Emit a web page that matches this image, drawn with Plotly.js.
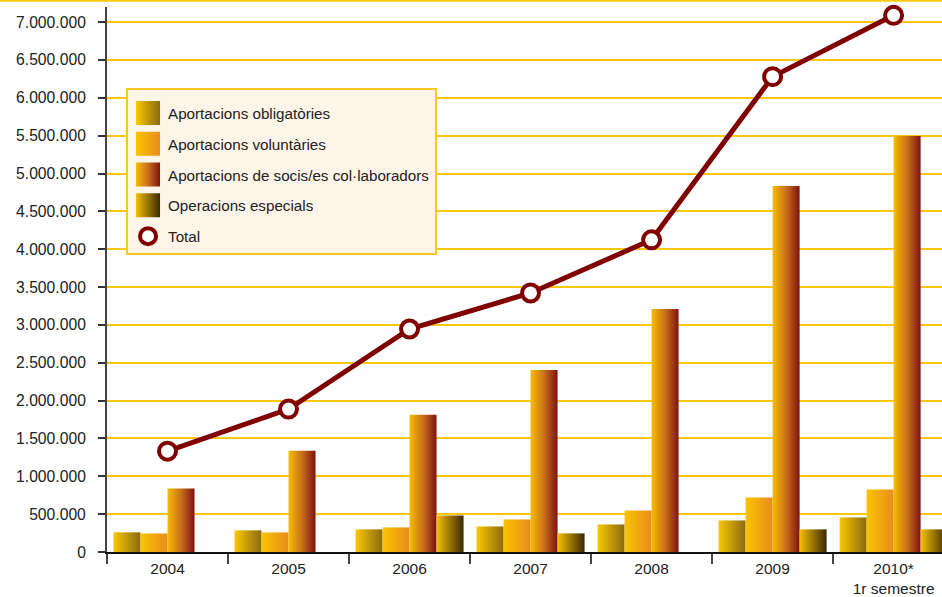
<!DOCTYPE html>
<html>
<head>
<meta charset="utf-8">
<script src="https://cdn.plot.ly/plotly-3.0.1.min.js"></script>
<style>html,body{margin:0;padding:0;background:#fff;}#chart{width:942px;height:597px;}</style>
</head>
<body>
<div id="chart"></div>
<script>
const years = ['2004', '2005', '2006', '2007', '2008', '2009', '2010*<br>1r semestre'];
const obligatories = [260000, 286000, 299000, 338000, 364000, 417000, 457000];
const voluntaries = [245000, 259000, 325000, 430000, 549000, 720000, 825000];
const socis = [838000, 1339000, 1812000, 2404000, 3210000, 4836000, 5497000];
const especials = [null, null, 483000, 246000, null, 299000, 299000];
const total = [1332000, 1888000, 2946000, 3422000, 4124000, 6280000, 7090000];
const seriesNames = ['Aportacions obligatòries', 'Aportacions voluntàries', 'Aportacions de socis/es col·laboradors', 'Operacions especials', 'Total'];
const yTicks = [0, 500000, 1000000, 1500000, 2000000, 2500000, 3000000, 3500000, 4000000, 4500000, 5000000, 5500000, 6000000, 6500000, 7000000];

const gradients = [
  [['0%', '#fac800'], ['100%', '#8a6a12']],
  [['0%', '#fac400'], ['100%', '#e88c1e']],
  [['0%', '#f7bc00'], ['50%', '#c8701c'], ['100%', '#7e1212']],
  [['0%', '#f5c000'], ['100%', '#3a2806']]
];
const solid = ['#c49a0a', '#f0a812', '#b8501a', '#8a6a08'];

const barData = [obligatories, voluntaries, socis, especials];
const traces = barData.map((vals, i) => ({
  type: 'bar', x: years, y: vals, name: seriesNames[i],
  legendgroup: 'g' + i,
  marker: {color: solid[i], line: {width: 0}},
  hoverinfo: 'y'
}));
traces.push({
  type: 'scatter', mode: 'lines+markers', x: years, y: total, name: seriesNames[4],
  legendgroup: 'g4', cliponaxis: false,
  line: {color: '#800000', width: 5},
  marker: {symbol: 'circle', size: 17, color: '#ffffff', line: {color: '#800000', width: 4}}
});

const layout = {
  width: 942, height: 597,
  margin: {l: 107, r: 0, t: 7, b: 45},
  paper_bgcolor: '#ffffff', plot_bgcolor: '#ffffff',
  separators: ',.',
  font: {family: 'Liberation Sans, Arial, sans-serif', size: 15, color: '#222'},
  barmode: 'group', bargap: 0.107, bargroupgap: 0,
  showlegend: true,
  legend: {
    x: 0.0228, y: 0.851, xanchor: 'left', yanchor: 'top',
    bgcolor: '#fdf6e8', bordercolor: '#f8c820', borderwidth: 2,
    font: {size: 15.2, color: '#222'},
    title: {text: '\u00a0', font: {size: 5}},
    traceorder: 'grouped', tracegroupgap: 8,
    itemwidth: 30
  },
  xaxis: {
    type: 'category', range: [-0.5, 6.4],
    tickson: 'boundaries', ticks: 'outside', ticklen: 10, tickwidth: 2, tickcolor: '#444',
    showline: true, linecolor: '#111', linewidth: 2,
    showgrid: false, zeroline: false, ticklabelstandoff: 1,
    tickfont: {size: 15.5, color: '#222'}, fixedrange: true
  },
  yaxis: {
    range: [0, 7200000], tickvals: yTicks, tickformat: ',d',
    ticks: 'outside', ticklen: 7, tickwidth: 2, tickcolor: '#333',
    showline: true, linecolor: '#444', linewidth: 2,
    showgrid: true, gridcolor: '#f9c80e', gridwidth: 2,
    zeroline: false, ticklabelstandoff: 9,
    tickfont: {size: 15.7, color: '#222'}, fixedrange: true
  },
  shapes: [{
    type: 'line', xref: 'paper', yref: 'paper',
    x0: -107 / 835, x1: 1, y0: 1.0115, y1: 1.0115,
    line: {color: '#f9c80e', width: 2}
  }]
};

function applyGradients(gd) {
  const NS = 'http://www.w3.org/2000/svg';
  const svg = gd.querySelector('svg.main-svg');
  let defs = svg.querySelector('defs#customgrads');
  if (!defs) {
    defs = document.createElementNS(NS, 'defs');
    defs.setAttribute('id', 'customgrads');
    gradients.forEach((stops, i) => {
      const lg = document.createElementNS(NS, 'linearGradient');
      lg.setAttribute('id', 'barGrad' + i);
      lg.setAttribute('x1', '0'); lg.setAttribute('y1', '0');
      lg.setAttribute('x2', '1'); lg.setAttribute('y2', '0');
      stops.forEach(s => {
        const st = document.createElementNS(NS, 'stop');
        st.setAttribute('offset', s[0]);
        st.setAttribute('stop-color', s[1]);
        lg.appendChild(st);
      });
      defs.appendChild(lg);
    });
    svg.insertBefore(defs, svg.firstChild);
  }
  gd.querySelectorAll('.barlayer .trace').forEach(tr => {
    const d = tr.__data__;
    const idx = d && d[0] && d[0].trace ? d[0].trace.index : null;
    if (idx === null || idx > 3) return;
    tr.querySelectorAll('path').forEach(p => { p.style.fill = 'url(#barGrad' + idx + ')'; });
  });
  gd.querySelectorAll('.legend .traces').forEach(tr => {
    const d = tr.__data__;
    const t = d && d[0] && d[0].trace;
    if (!t) return;
    if (t.type === 'bar') {
      tr.querySelectorAll('path.legendbar, .legendpoints path').forEach(p => {
        p.setAttribute('d', 'M12,12H-12V-12H12Z');
        p.style.fill = 'url(#barGrad' + t.index + ')';
      });
    } else {
      tr.querySelectorAll('.legendlines path').forEach(p => { p.style.display = 'none'; });
    }
  });
}

Plotly.newPlot('chart', traces, layout, {displayModeBar: false, staticPlot: true}).then(gd => {
  applyGradients(gd);
});
</script>
</body>
</html>
